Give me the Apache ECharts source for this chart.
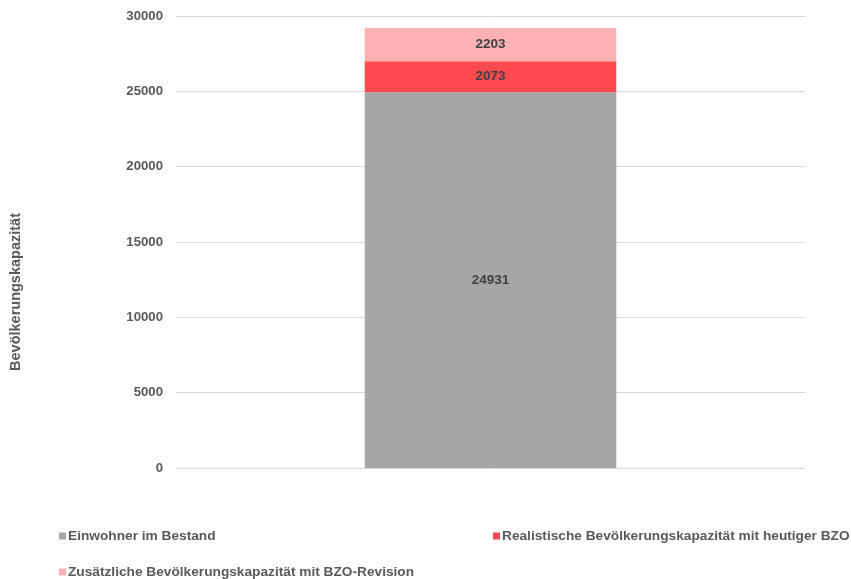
<!DOCTYPE html>
<html><head><meta charset="utf-8">
<script src="https://cdn.jsdelivr.net/npm/echarts@6/dist/echarts.min.js"></script>
<style>html,body{margin:0;padding:0;background:#fff}#c{width:851px;height:579px}</style>
</head><body><div id="c"></div>
<script>
const categories = [''];
const seriesNames = ['Einwohner im Bestand','Realistische Bevölkerungskapazität mit heutiger BZO','Zusätzliche Bevölkerungskapazität mit BZO-Revision'];
const bestand = [24931];
const realistisch = [2073];
const zusaetzlich = [2203];
const colors = ['#a6a6a6','#ff4b50','#ffb1b3'];
const FONT = 'Liberation Sans, Arial, sans-serif';
const lbl = {show:true, position:'inside', color:'#404040', fontWeight:'bold', fontSize:13.5, fontFamily:FONT};
const chart = echarts.init(document.getElementById('c'));
const legendBase = {itemWidth:7, itemHeight:7, itemGap:0, icon:'rect', padding:0, textStyle:{color:'#595959', fontWeight:'bold', fontSize:13.7, fontFamily:FONT, padding:[0,0,0,-3]}};
chart.setOption({
  animation:false,
  color: colors,
  grid:{left:176, right:46, top:16, bottom:111},
  xAxis:{type:'category', data:categories, axisLine:{show:false}, axisTick:{show:false}, axisLabel:{show:false}},
  yAxis:{type:'value', min:0, max:30000, interval:5000,
    axisLine:{show:false}, axisTick:{show:false},
    axisLabel:{color:'#595959', fontWeight:'bold', fontSize:13.2, fontFamily:FONT, margin:13, formatter:function(v){return String(v);}},
    splitLine:{lineStyle:{color:'#d9d9d9', width:1}}},
  legend:[
    Object.assign({}, legendBase, {data:[seriesNames[0]], left:59, top:529}),
    Object.assign({}, legendBase, {data:[seriesNames[1]], left:493, top:529}),
    Object.assign({}, legendBase, {data:[seriesNames[2]], left:59, top:565})
  ],
  graphic:[{type:'text', x:16, y:292, rotation:Math.PI/2,
    style:{text:'Bevölkerungskapazität', fill:'#595959', font:'bold 14.5px '+FONT, textAlign:'center', textVerticalAlign:'middle'}}],
  series:[
    {name:seriesNames[0], type:'bar', stack:'a', data:bestand, barWidth:'40%', label:lbl},
    {name:seriesNames[1], type:'bar', stack:'a', data:realistisch, label:lbl},
    {name:seriesNames[2], type:'bar', stack:'a', data:zusaetzlich, label:lbl}
  ]
});
</script></body></html>
